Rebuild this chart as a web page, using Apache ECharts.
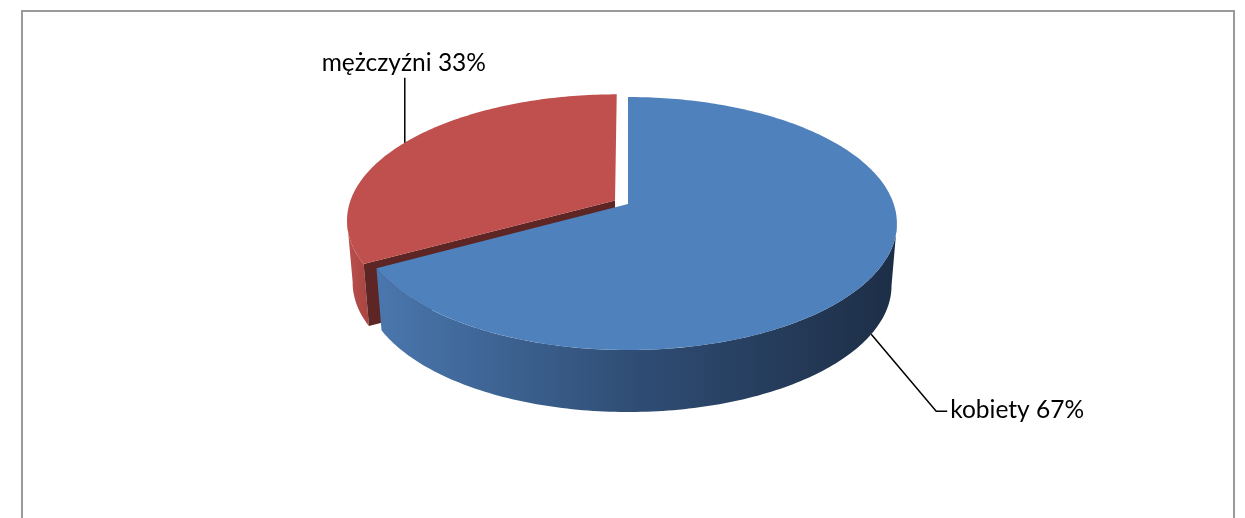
<!DOCTYPE html>
<html><head><meta charset="utf-8">
<script src="https://cdn.jsdelivr.net/npm/echarts@6/dist/echarts.min.js"></script>
<style>html,body{margin:0;padding:0;background:#fff}#c{width:1245px;height:518px}</style>
</head><body><div id="c"></div>
<script>
// ---- data ----
const categories = ['kobiety', 'mężczyźni'];
const values = [67, 33];
// ---- styles ----
const topColors = ['#4f81bd', '#c0504d'];
const sideColors = [['#4a77ae', '#2f4d74', '#1d2e46'], ['#bd504d', '#b14a47', '#a84542']];
const cutColors = ['#2b4566', '#5d2523'];
const explode = [0, 0.057];

// pie geometry (center, radii, perspective, depth)
const P = { cx: 628, cy: 204, A: 265.7, B: 123.5, k: 0.1542, D: 62, bottomScale: 0.98 };
const total = values.reduce((a, b) => a + b, 0);
const starts = [];
{ let acc = 0; values.forEach(v => { starts.push(acc / total * 360); acc += v; }); }
const rad = d => d * Math.PI / 180;

function proj(u, v, down) {
  const w = 1 + P.k * v;
  let x = P.cx + P.A * u / w;
  let y = P.cy - P.B * v / w;
  if (down) { x = P.cx + (x - P.cx) * P.bottomScale; y += P.D; }
  return [x, y];
}

const frontL = 360 - Math.acos(-P.k) * 180 / Math.PI;
const frontR = Math.acos(-P.k) * 180 / Math.PI;

function renderItem(params, api) {
  const i = params.dataIndex;
  const val = api.value(0);
  const s = starts[i];
  const e = s + val / total * 360;
  const mid = (s + e) / 2;
  const ou = explode[i] * Math.sin(rad(mid));
  const ov = explode[i] * Math.cos(rad(mid));
  const edge = (phi, down) => proj(ou + Math.sin(rad(phi)), ov + Math.cos(rad(phi)), down);
  const apex = down => proj(ou, ov, down);
  const back = Math.cos(rad(mid)) > 0;
  const base = back ? 0 : 10;
  const children = [];

  // outer side
  const a0 = Math.max(s, frontR), a1 = Math.min(e, frontL);
  if (a1 > a0) {
    const pts = [];
    const n = Math.max(2, Math.ceil(a1 - a0));
    for (let j = 0; j <= n; j++) pts.push(edge(a0 + (a1 - a0) * j / n, false));
    for (let j = n; j >= 0; j--) pts.push(edge(a0 + (a1 - a0) * j / n, true));
    const xs = pts.map(p => p[0]);
    const minX = Math.min(...xs), maxX = Math.max(...xs);
    children.push({
      type: 'polygon', z2: base + 1, shape: { points: pts },
      style: { fill: { type: 'linear', x: minX, y: 0, x2: maxX, y2: 0, global: true,
        colorStops: [{ offset: 0, color: sideColors[i][0] }, { offset: 0.5, color: sideColors[i][1] }, { offset: 1, color: sideColors[i][2] }] } }
    });
  }
  // radial cut faces
  if (Math.sin(rad(s)) < -1e-6) {
    children.push({ type: 'polygon', z2: base + 2,
      shape: { points: [apex(false), edge(s, false), edge(s, true), apex(true)] },
      style: { fill: cutColors[i] } });
  }
  if (Math.sin(rad(e)) > 1e-6) {
    children.push({ type: 'polygon', z2: base + 2,
      shape: { points: [apex(false), edge(e, false), edge(e, true), apex(true)] },
      style: { fill: cutColors[i] } });
  }
  // top face
  const topPts = [apex(false)];
  const n = Math.ceil(e - s);
  for (let j = 0; j <= n; j++) topPts.push(edge(s + (e - s) * j / n, false));
  children.push({ type: 'polygon', z2: base + 3, shape: { points: topPts }, style: { fill: topColors[i] } });

  // label with leader line
  const pct = Math.round(val / total * 100);
  const text = categories[i] + ' ' + pct + '%';
  const font = { fontSize: 24.5, fontFamily: 'Lato', fill: '#000' };
  if (back) {
    const a = edge(mid, false);
    const top = a[1] - 65;
    children.push({ type: 'polyline', z2: 100, shape: { points: [[a[0], a[1]], [a[0], top]] }, style: { stroke: '#000', lineWidth: 1.5, fill: null } });
    children.push({ type: 'text', z2: 100, style: Object.assign({ text: text, x: a[0] - 1, y: top - 15, align: 'center', verticalAlign: 'middle' }, font) });
  } else {
    const a = edge(mid, true);
    const b = [a[0] + 65, a[1] + 77];
    const c = [b[0] + 11, b[1]];
    children.push({ type: 'polyline', z2: 100, shape: { points: [a, b, c] }, style: { stroke: '#000', lineWidth: 1.5, fill: null } });
    children.push({ type: 'text', z2: 100, style: Object.assign({ text: text, x: c[0] + 3, y: c[1] - 1, align: 'left', verticalAlign: 'middle' }, font) });
  }
  return { type: 'group', children: children };
}

const chart = echarts.init(document.getElementById('c'), null, { renderer: 'canvas' });
chart.setOption({
  animation: false,
  backgroundColor: '#ffffff',
  graphic: [{ type: 'rect', silent: true, shape: { x: 22, y: 11, width: 1212, height: 560 },
    style: { fill: 'none', stroke: '#9a9a9a', lineWidth: 2 } }],
  series: [{
    type: 'custom',
    coordinateSystem: 'none',
    silent: true,
    data: values.map((v, i) => ({ name: categories[i], value: [v] })),
    renderItem: renderItem
  }]
});
</script>
</body></html>
